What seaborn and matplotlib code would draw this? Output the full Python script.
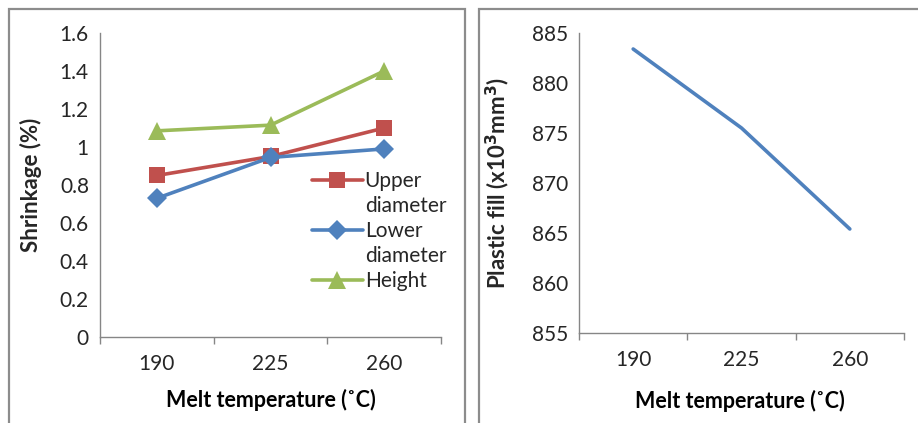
import numpy as np
import pandas as pd
import matplotlib
matplotlib.use("Agg")
import matplotlib.pyplot as plt
import seaborn as sns
from matplotlib.lines import Line2D
from matplotlib.patches import Rectangle
from matplotlib.ticker import FuncFormatter, FixedLocator

# DADOS DO GRAFICO
temperaturas = ["190", "225", "260"]
series = ["Upper diameter", "Lower diameter", "Height"]
upper = [0.85, 0.95, 1.10]
lower = [0.73, 0.945, 0.99]
height = [1.085, 1.115, 1.40]
plastic_fill = [883.4, 875.5, 865.4]

cores = {"Upper diameter": "#C0504D", "Lower diameter": "#4F81BD", "Height": "#9BBB59"}
marcadores = {"Upper diameter": "s", "Lower diameter": "D", "Height": "^"}
tamanhos = {"Upper diameter": 12, "Lower diameter": 10.5, "Height": 12.5}

# TABELA LONGA PARA O SEABORN
df_shrink = pd.DataFrame({
    "temp": temperaturas * 3,
    "valor": upper + lower + height,
    "serie": [s for s in series for _ in temperaturas],
})
df_fill = pd.DataFrame({"temp": temperaturas, "fill": plastic_fill})

sns.set_style("white")
plt.rcParams["font.family"] = ["Lato", "DejaVu Sans"]

fig = plt.figure(figsize=(9.18, 4.23), dpi=100)
W, H = 918, 423

def eixo(x0, x1, ytop, ybot):
    return fig.add_axes([x0 / W, 1 - ybot / H, (x1 - x0) / W, (ybot - ytop) / H])

ax1 = eixo(100, 441, 33, 337)
ax2 = eixo(579, 904, 33, 333)

# MOLDURAS DOS DOIS GRAFICOS (ESTILO EXCEL)
for x0, x1 in [(8.5, 464.5), (478.5, 930)]:
    fig.patches.append(Rectangle((x0 / W, -0.2), (x1 - x0) / W, 1.2 - 8.5 / H,
                                 transform=fig.transFigure, fill=False,
                                 edgecolor="#8c8c8c", linewidth=1.6, zorder=0))

# PAINEL ESQUERDO - SHRINKAGE
for s in series:
    d = df_shrink[df_shrink["serie"] == s]
    sns.lineplot(data=d, x="temp", y="valor", ax=ax1, color=cores[s], linewidth=2.6,
                 marker=marcadores[s], markersize=tamanhos[s], markeredgewidth=0,
                 markeredgecolor=cores[s], legend=False, sort=False)

# PAINEL DIREITO - PLASTIC FILL
sns.lineplot(data=df_fill, x="temp", y="fill", ax=ax2, color="#4F81BD",
             linewidth=2.6, legend=False, sort=False)

def formata(v, pos):
    return f"{v:g}"

for ax, lims, passo in [(ax1, (0, 1.6), 0.2), (ax2, (855, 885), 5)]:
    ax.set_xlim(-0.5, 2.5)
    ax.set_ylim(*lims)
    ax.set_yticks(np.arange(lims[0], lims[1] + passo / 2, passo))
    ax.yaxis.set_major_formatter(FuncFormatter(formata))
    ax.set_xticks(range(len(temperaturas)))
    ax.set_xticklabels(temperaturas)
    ax.xaxis.set_minor_locator(FixedLocator([-0.5, 0.5, 1.5, 2.5]))
    for lado in ["top", "right"]:
        ax.spines[lado].set_visible(False)
    for lado in ["left", "bottom"]:
        ax.spines[lado].set_color("#868686")
        ax.spines[lado].set_linewidth(1.0)
    ax.tick_params(axis="y", which="major", direction="out", length=5, width=1,
                   color="#868686", labelsize=15, labelcolor="#262626", pad=3)
    ax.tick_params(axis="x", which="major", length=0, labelsize=15,
                   labelcolor="#262626", pad=12)
    ax.tick_params(axis="x", which="minor", direction="out", length=5, width=1,
                   color="#868686", bottom=True)
    ax.set_xlabel("Melt temperature (˚C)", fontsize=15.5, fontweight="bold", color="#000000")
    ax.grid(False)

ax1.set_ylabel("Shrinkage (%)", fontsize=16, fontweight="bold")
ax2.set_ylabel("Plastic fill (x10$^\\mathbf{3}$mm$^\\mathbf{3}$)", fontsize=16, fontweight="bold")
ax1.xaxis.set_label_coords(0.50, -0.17)
ax2.xaxis.set_label_coords(0.495, -0.19)
ax1.yaxis.set_label_coords(-0.17, 0.5)
ax2.yaxis.set_label_coords(-0.205, 0.5)

# LEGENDA (PRIMEIRA PALAVRA AO LADO DO MARCADOR)
handles, labels = [], []
for s in series:
    partes = s.split(" ", 1)
    handles.append(Line2D([], [], color=cores[s], linewidth=2.6, marker=marcadores[s],
                          markersize=tamanhos[s], markeredgewidth=0))
    labels.append(partes[0])
    if len(partes) > 1:
        handles.append(Line2D([], [], linewidth=0, alpha=0))
        labels.append(partes[1])
ax1.legend(handles, labels, loc="upper left", bbox_to_anchor=(0.59, 0.58),
           frameon=False, fontsize=15, handlelength=2.45, handletextpad=0.1,
           labelspacing=0.24, borderpad=0, labelcolor="#262626")

fig.savefig("out.png", dpi=100)
